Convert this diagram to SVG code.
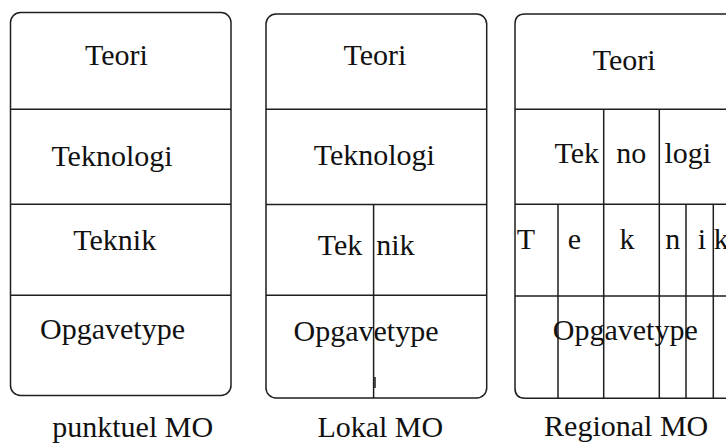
<svg xmlns="http://www.w3.org/2000/svg" width="726" height="444" viewBox="0 0 726 444">
  <style>
    .frame { fill: #ffffff; stroke: #1e1e1e; stroke-width: 1.5; }
    .rule { stroke: #1e1e1e; stroke-width: 1.5; fill: none; }
    text { font-family: "Liberation Serif", "Times New Roman", serif; font-size: 30px; fill: #111111; }
    .c { text-anchor: middle; }
  </style>
  <rect x="0" y="0" width="726" height="444" fill="#ffffff"/>

  <!-- punctual MO: four undivided layers -->
  <g id="punktuel">
    <rect class="frame" x="10.5" y="12.5" width="220.5" height="383" rx="10" ry="10"/>
    <line class="rule" x1="10.5" y1="109.3" x2="231" y2="109.3"/>
    <line class="rule" x1="10.5" y1="204.3" x2="231" y2="204.3"/>
    <line class="rule" x1="10.5" y1="295.3" x2="231" y2="295.3"/>
    <text class="c" x="116.5" y="64.5">Teori</text>
    <text class="c" x="112" y="165.5">Teknologi</text>
    <text class="c" x="114.7" y="249.5">Teknik</text>
    <text class="c" x="112.5" y="339">Opgavetype</text>
    <text class="c" x="132.7" y="437">punktuel MO</text>
  </g>

  <!-- local MO: technique layer split in two -->
  <g id="lokal">
    <rect class="frame" x="266" y="14" width="220.7" height="384" rx="10" ry="10"/>
    <line class="rule" x1="266" y1="109.3" x2="486.7" y2="109.3"/>
    <line class="rule" x1="266" y1="204.5" x2="486.7" y2="204.5"/>
    <line class="rule" x1="266" y1="295.3" x2="486.7" y2="295.3"/>
    <line class="rule" x1="373.6" y1="204.5" x2="373.6" y2="398"/>
    <line class="rule" x1="375" y1="377" x2="375" y2="388" stroke-width="2"/>
    <text class="c" x="375" y="64.5">Teori</text>
    <text class="c" x="374.3" y="164.5">Teknologi</text>
    <text x="317.8" y="255">Tek</text>
    <text x="376.2" y="255">nik</text>
    <text class="c" x="366" y="341">Opgavetype</text>
    <text class="c" x="380.3" y="437">Lokal MO</text>
  </g>

  <!-- regional MO: technology and technique layers split, frame runs past the right edge -->
  <g id="regional">
    <path class="frame" d="M 760 14 L 525 14 Q 515 14 515 24 L 515 388.3 Q 515 398.3 525 398.3 L 760 398.3"/>
    <line class="rule" x1="515" y1="109.3" x2="726" y2="109.3"/>
    <line class="rule" x1="515" y1="204.3" x2="726" y2="204.3"/>
    <line class="rule" x1="515" y1="296" x2="726" y2="296"/>
    <line class="rule" x1="603.7" y1="109.3" x2="603.7" y2="398.3"/>
    <line class="rule" x1="659.3" y1="109.3" x2="659.3" y2="398.3"/>
    <line class="rule" x1="558" y1="204.3" x2="558" y2="398.3"/>
    <line class="rule" x1="686" y1="204.3" x2="686" y2="398.3"/>
    <line class="rule" x1="713.3" y1="204.3" x2="713.3" y2="398.3"/>
    <text class="c" x="624.2" y="69.5">Teori</text>
    <text x="554.5" y="162.5">Tek</text>
    <text x="616.2" y="162.5">no</text>
    <text x="664.5" y="162.5">logi</text>
    <text x="516.8" y="248.5">T</text>
    <text x="567.8" y="248.5">e</text>
    <text x="619.5" y="248.5">k</text>
    <text x="665.2" y="248.5">n</text>
    <text x="697.8" y="248.5">i</text>
    <text x="713.8" y="248.5">k</text>
    <text class="c" x="625.3" y="340">Opgavetype</text>
    <text class="c" x="626.2" y="436">Regional MO</text>
  </g>
</svg>
